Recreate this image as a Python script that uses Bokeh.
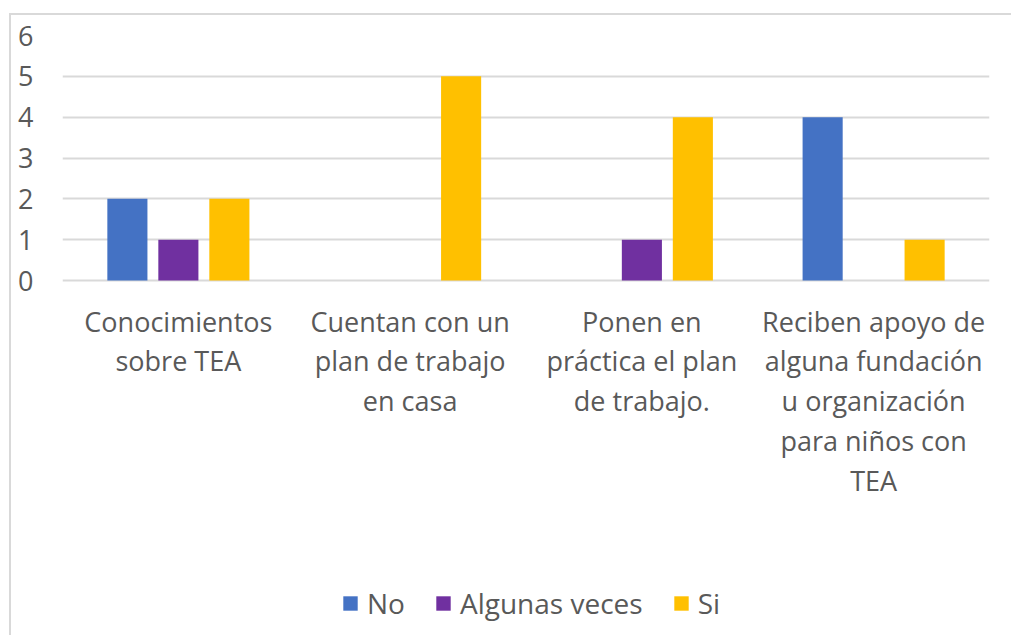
from bokeh.plotting import figure
from bokeh.models import ColumnDataSource, FixedTicker, Legend, LegendItem
from bokeh.transform import dodge
from bokeh.core.properties import value
from bokeh.embed import file_html
from bokeh.resources import INLINE

categories = ["Conocimientos sobre TEA", "Cuentan con un plan de trabajo en casa",
              "Ponen en práctica el plan de trabajo.",
              "Reciben apoyo de alguna fundación u organización para niños con TEA"]
labels = ["Conocimientos\nsobre TEA", "Cuentan con un\nplan de trabajo\nen casa",
          "Ponen en\npráctica el plan\nde trabajo.",
          "Reciben apoyo de\nalguna fundación\nu organización\npara niños con\nTEA"]
no_vals = [2, 0, 0, 4]
algunas_vals = [1, 0, 1, 0]
si_vals = [2, 5, 4, 1]
y_ticks = [0, 1, 2, 3, 4, 5, 6]

FONT = "Open Sans"
TXT = "#595959"
GRID = "#d9d9d9"

frame_w = 927
frame_h = 600
ppu = 245 / 6.0
y_end = 6
y_start = y_end - frame_h / ppu

src = ColumnDataSource(dict(cat=categories, no=no_vals, alg=algunas_vals, si=si_vals))

p = figure(x_range=categories, y_range=(y_start, y_end),
           frame_width=frame_w, frame_height=frame_h,
           min_border_left=51, min_border_right=22, min_border_top=20, min_border_bottom=0,
           x_axis_location=None, output_backend="svg", toolbar_location=None)
p.styles = {"margin-left": "9px", "margin-top": "13px",
            "border-left": "2px solid #d9d9d9", "border-top": "2px solid #d9d9d9"}
p.outline_line_color = None
p.background_fill_color = "white"
p.x_range.range_padding = 0

bw = 0.173
r1 = p.vbar(x=dodge("cat", -0.22, range=p.x_range), top="no", width=bw, source=src,
            fill_color="#4472C4", line_color=None)
r2 = p.vbar(x=dodge("cat", 0.0, range=p.x_range), top="alg", width=bw, source=src,
            fill_color="#7030A0", line_color=None)
r3 = p.vbar(x=dodge("cat", 0.22, range=p.x_range), top="si", width=bw, source=src,
            fill_color="#FFC000", line_color=None)

lsrc = ColumnDataSource(dict(x=categories, y=[-22 / ppu] * 4, t=labels))
p.text(x="x", y="y", text="t", source=lsrc, text_align="center", text_baseline="top",
       text_font=value(FONT), text_font_size="27px", text_color=TXT, text_line_height=1.08)

yax = p.yaxis[0]
yax.ticker = FixedTicker(ticks=y_ticks)
yax.axis_line_color = None
yax.major_tick_line_color = None
yax.minor_tick_line_color = None
yax.major_label_text_font = FONT
yax.major_label_text_font_size = "27px"
yax.major_label_text_color = TXT
yax.major_label_standoff = 23

p.ygrid.ticker = FixedTicker(ticks=y_ticks)
p.ygrid.grid_line_color = GRID
p.ygrid.grid_line_width = 2
p.xgrid.grid_line_color = None

legend = Legend(items=[LegendItem(label="No", renderers=[r1]),
                       LegendItem(label="Algunas veces", renderers=[r2]),
                       LegendItem(label="Si", renderers=[r3])],
                orientation="horizontal", location=(279, 13))
legend.glyph_width = 18
legend.glyph_height = 18
legend.label_standoff = 8
legend.spacing = 29
legend.padding = 0
legend.margin = 0
legend.border_line_color = None
legend.background_fill_alpha = 0
legend.label_text_font = FONT
legend.label_text_font_size = "28px"
legend.label_text_color = TXT
p.add_layout(legend)

open("out.html", "w").write(file_html(p, INLINE))
